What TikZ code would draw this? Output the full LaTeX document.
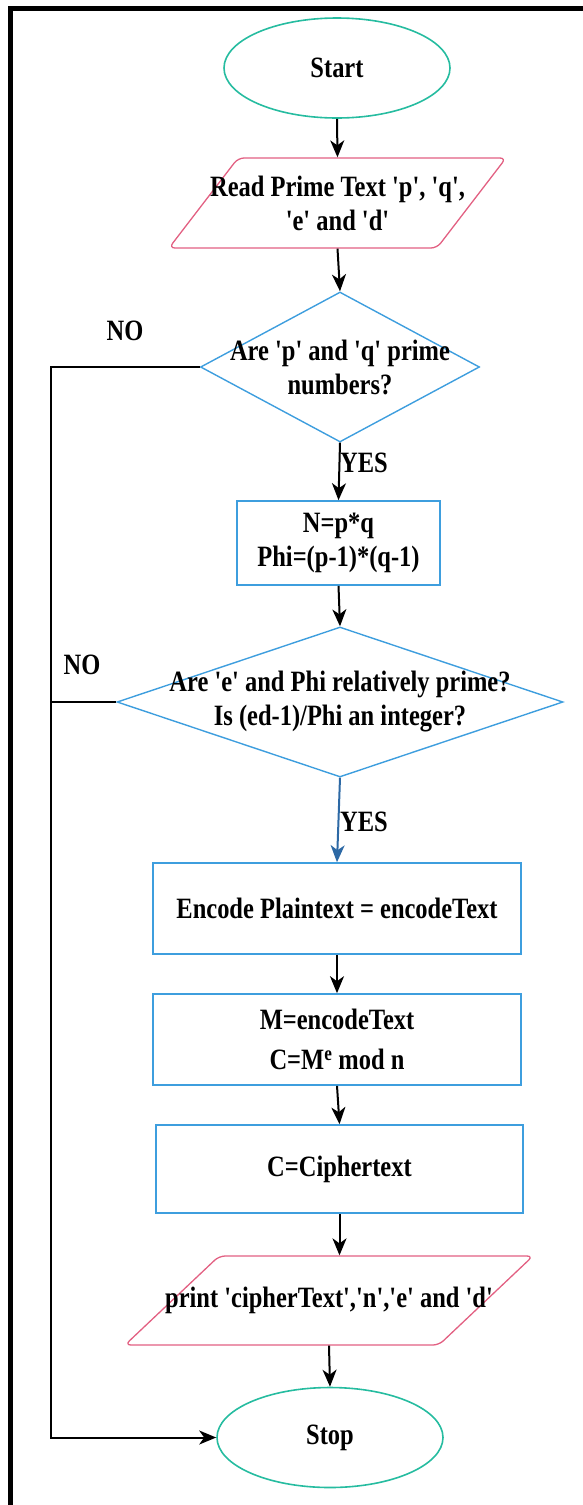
\documentclass[tikz,border=0pt]{standalone}
\usepackage{fontspec}
\newfontfamily\flowfont{Liberation Serif}[FakeStretch=0.83]
\usetikzlibrary{shapes.geometric,arrows.meta}

\definecolor{startteal}{RGB}{38,188,160}
\definecolor{iopink}{RGB}{226,96,130}
\definecolor{procblue}{RGB}{62,158,222}
\definecolor{yesblue}{RGB}{45,105,165}

\tikzset{
	terminal/.style={ellipse,draw=startteal,line width=1.6pt,minimum width=226pt,minimum height=100pt},
	inout/.style={trapezium,draw=iopink,line width=1.3pt,rounded corners=6pt,trapezium stretches body,inner xsep=0pt},
	process/.style={rectangle,draw=procblue,line width=1.6pt,align=center},
	decision/.style={diamond,draw=procblue,line width=1.4pt,inner sep=0pt},
	arr/.style={-{Stealth[length=17pt,width=14pt,inset=5pt]},line width=2pt},
	every label/.style={align=center}
}

\begin{document}
\begin{tikzpicture}[x=1pt,y=-1pt,font=\flowfont\bfseries\fontsize{29.5}{34}\selectfont]
	\useasboundingbox (0,0) rectangle (583,1505);
	\draw[line width=5pt] (10.5,1505) -- (10.5,8) -- (583,8);
	% shapes
	\node[terminal] (start) at (337,68) {Start};
	\node[inout,trapezium left angle=52.5,trapezium right angle=127.5,minimum width=337pt,inner ysep=45pt,
		label={center:{Read Prime Text 'p', 'q',\\'e' and 'd'}}] (read) at (337.5,203) {};
	\node[decision,minimum width=279pt,minimum height=150pt,
		label={center:{Are 'p' and 'q' prime\\numbers?}}] (primeq) at (340,367) {};
	\node[process,minimum width=203pt,minimum height=84pt] (calc) at (338.5,543) {N=p*q\\Phi=(p-1)*(q-1)};
	\node[decision,minimum width=446pt,minimum height=150pt,
		label={center:{Are 'e' and Phi relatively prime?\\Is (ed-1)/Phi an integer?}}] (phiq) at (340,702) {};
	\node[process,minimum width=368pt,minimum height=91pt] (encode) at (337,908.5) {Encode Plaintext = encodeText};
	\node[process,minimum width=368pt,minimum height=91pt] (cipher) at (337,1039.5) {M=encodeText\\[6pt]C=M\textsuperscript{e} mod n};
	\node[process,minimum width=367pt,minimum height=88pt] (ctext) at (339.5,1169) {C=Ciphertext};
	\node[inout,trapezium left angle=43.4,trapezium right angle=136.6,minimum width=408pt,inner ysep=44.5pt,
		label={center:{print 'cipherText','n','e' and 'd'}}] (print) at (329,1300.5) {};
	\node[terminal] (stop) at (330,1437.5) {Stop};
	% labels
	\node (no1) at (125,331) {NO};
	\node (no2) at (82,665) {NO};
	\node[anchor=west,inner sep=0pt] (yes1) at (340,463) {YES};
	\node[anchor=west,inner sep=0pt] (yes2) at (340,822) {YES};
	% arrows
	\draw[arr] (start.south) -- (read.north);
	\draw[arr] (read.south) -- (primeq.north);
	\draw[arr] (primeq.south) -- (calc.north);
	\draw[arr] (calc.south) -- (phiq.north);
	\draw[arr,yesblue] (phiq.south) -- (encode.north);
	\draw[arr] (encode.south) -- (cipher.north);
	\draw[arr] (cipher.south) -- (ctext.north);
	\draw[arr] (ctext.south) -- (ctext.south |- print.north);
	\draw[arr] (print.south) -- (stop.north);
	\coordinate (nobend) at (51,367);
	\draw[arr] (primeq.west) -- (nobend) |- (stop.west);
	\draw[line width=2pt] (phiq.west) -- (nobend |- phiq.west);
\end{tikzpicture}
\end{document}
